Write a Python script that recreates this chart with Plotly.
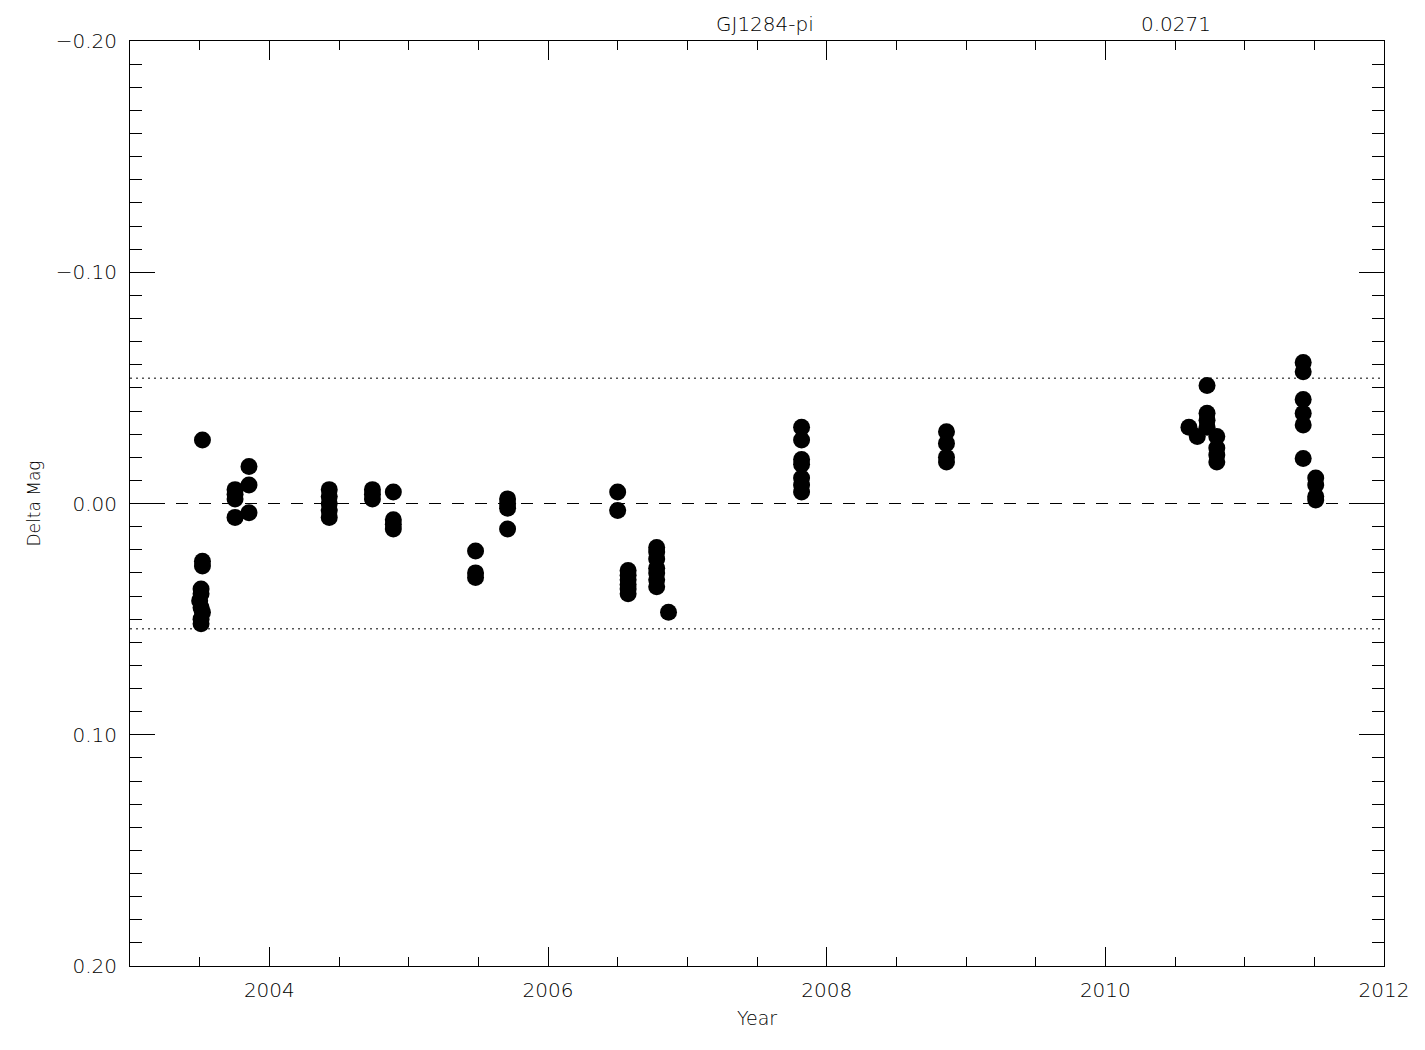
import plotly.graph_objects as go

# Observation epochs (decimal year) and delta magnitudes
years = [
    2003.52, 2003.52, 2003.52, 2003.51, 2003.51, 2003.50, 2003.51, 2003.52, 2003.51, 2003.51,
    2003.754, 2003.754, 2003.754, 2003.754, 2003.854, 2003.854, 2003.854,
    2004.43, 2004.43, 2004.43, 2004.43, 2004.43,
    2004.74, 2004.74, 2004.74,
    2004.89, 2004.89, 2004.89, 2004.89,
    2005.48, 2005.48, 2005.48,
    2005.71, 2005.71, 2005.71, 2005.71,
    2006.50, 2006.50,
    2006.575, 2006.575, 2006.575, 2006.575, 2006.575, 2006.575,
    2006.78, 2006.78, 2006.78, 2006.78, 2006.78, 2006.78, 2006.78,
    2006.865,
    2007.82, 2007.82, 2007.82, 2007.82, 2007.82, 2007.82, 2007.82,
    2008.86, 2008.86, 2008.86, 2008.86,
    2010.60, 2010.66, 2010.73, 2010.73, 2010.73, 2010.73, 2010.80, 2010.80, 2010.80, 2010.80,
    2011.42, 2011.42, 2011.42, 2011.42, 2011.42, 2011.42, 2011.51, 2011.51, 2011.51, 2011.51,
]
delta_mag = [
    -0.0275, 0.025, 0.027, 0.037, 0.039, 0.042, 0.045, 0.047, 0.050, 0.052,
    -0.006, -0.004, -0.002, 0.006, -0.016, -0.008, 0.004,
    -0.006, -0.003, 0.000, 0.003, 0.006,
    -0.006, -0.004, -0.002,
    -0.005, 0.007, 0.009, 0.011,
    0.0205, 0.030, 0.032,
    -0.002, 0.000, 0.002, 0.011,
    -0.005, 0.003,
    0.029, 0.031, 0.033, 0.035, 0.037, 0.039,
    0.019, 0.021, 0.024, 0.028, 0.030, 0.033, 0.036,
    0.047,
    -0.033, -0.0275, -0.019, -0.017, -0.011, -0.008, -0.005,
    -0.031, -0.026, -0.020, -0.018,
    -0.033, -0.029, -0.051, -0.039, -0.036, -0.033, -0.029, -0.024, -0.021, -0.018,
    -0.061, -0.057, -0.045, -0.039, -0.034, -0.0195, -0.011, -0.008, -0.003, -0.0015,
]

star_name = "GJ1284-pi"
sigma = 0.0271
x_range = [2003, 2012]
y_range = [0.20, -0.20]
x_ticks = [2004, 2006, 2008, 2010, 2012]
y_ticks = [-0.20, -0.10, 0.00, 0.10, 0.20]

font_family = "DejaVu Sans, Liberation Sans, sans-serif"
font_weight = 200

fig = go.Figure()
fig.add_trace(go.Scatter(
    x=years, y=delta_mag, mode="markers",
    marker=dict(color="black", size=17, line=dict(width=0)),
    showlegend=False, hoverinfo="x+y",
))

# reference lines: zero (dashed) and +/- 2 sigma (dotted)
fig.add_shape(type="line", xref="paper", yref="y", x0=0, x1=1, y0=0, y1=0,
              line=dict(color="black", width=1, dash="12px,11px"))
for s in (-2 * sigma, 2 * sigma):
    fig.add_shape(type="line", xref="paper", yref="y", x0=0, x1=1, y0=s, y1=s,
                  line=dict(color="black", width=1, dash="2px,4px"))

fig.add_annotation(text=star_name, xref="paper", yref="paper", x=0.506, y=1.0,
                   xanchor="center", yanchor="bottom", yshift=3, showarrow=False,
                   font=dict(size=20, color="black", family=font_family, weight=font_weight))
fig.add_annotation(text=f"{sigma:.4f}", xref="paper", yref="paper", x=0.834, y=1.0,
                   xanchor="center", yanchor="bottom", yshift=3, showarrow=False,
                   font=dict(size=20, color="black", family=font_family, weight=font_weight))

fig.update_layout(
    width=1425, height=1050,
    margin=dict(l=122, r=49, t=33, b=92),
    paper_bgcolor="white", plot_bgcolor="white",
    font=dict(family=font_family, color="black", size=20, weight=font_weight),
    xaxis=dict(
        range=x_range, tickmode="array", tickvals=x_ticks,
        ticktext=[str(t) for t in x_ticks],
        ticks="inside", ticklen=19, tickwidth=1, tickcolor="black",
        minor=dict(dtick=0.5, tick0=2003, ticks="inside", ticklen=9, tickwidth=1, tickcolor="black", showgrid=False),
        showline=True, linecolor="black", linewidth=1, mirror="ticks",
        showgrid=False, zeroline=False,
        ticklabelstandoff=6,
        title=dict(text="Year", font=dict(size=19, weight=font_weight), standoff=10),
        tickfont=dict(size=20, weight=font_weight),
    ),
    yaxis=dict(
        range=y_range, tickmode="array", tickvals=y_ticks,
        ticktext=[f"{t:.2f}".replace("-", "\u2212") if t != 0 else "0.00" for t in y_ticks],
        ticks="inside", ticklen=25, tickwidth=1, tickcolor="black",
        minor=dict(dtick=0.01, tick0=0, ticks="inside", ticklen=12, tickwidth=1, tickcolor="black", showgrid=False),
        showline=True, linecolor="black", linewidth=1, mirror="ticks",
        showgrid=False, zeroline=False,
        ticklabelstandoff=8,
        title=dict(text="Delta Mag", font=dict(size=17, weight=font_weight), standoff=10),
        tickfont=dict(size=20, weight=font_weight),
    ),
)

fig.write_html("out.html")
